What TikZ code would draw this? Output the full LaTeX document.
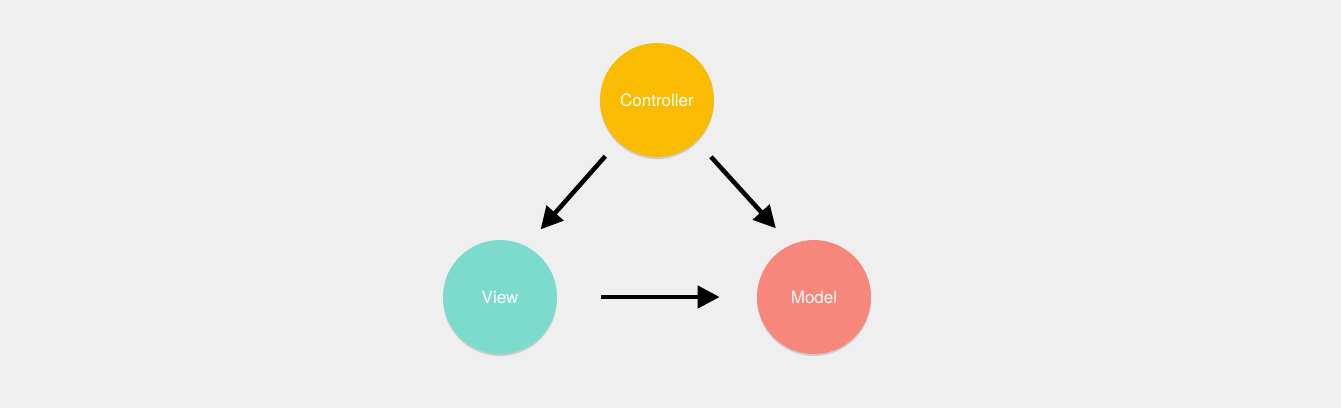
\documentclass[tikz,border=0pt]{standalone}
\usepackage{fontspec}
\setmainfont{TeX Gyre Heros}
\usetikzlibrary{arrows.meta,shadows}

\definecolor{bgGrey}{RGB}{239,239,239}
\definecolor{ctrlYellow}{RGB}{249,188,2}
\definecolor{viewTeal}{RGB}{125,219,206}
\definecolor{modelSalmon}{RGB}{248,135,123}

\tikzset{every picture/.style={line width=0.75pt}}
\tikzset{
  mvcball/.style={circle, minimum size=114pt, inner sep=0pt, draw=none,
    text=white, font=\fontsize{17}{20}\selectfont,
    drop shadow={shadow xshift=0pt, shadow yshift=-2pt, opacity=0.25, fill=black!60}},
  sketcharrow/.style={line width=4.5pt, black,
    -{Triangle[length=22pt,width=22pt]}}
}

\begin{document}
\begin{tikzpicture}[x=1pt,y=1pt,yscale=-1,xscale=1]
        %Background
        \fill [bgGrey] (0,0) rectangle (1341,408);
        \useasboundingbox (0,0) rectangle (1341,408);

        %Circles
        \node [mvcball, fill=ctrlYellow] (ctrl) at (657,100) {Controller};
        \node [mvcball, fill=viewTeal] (view) at (500,297) {View};
        \node [mvcball, fill=modelSalmon] (model) at (814,297) {Model};

        %Arrows
        \draw [sketcharrow, shorten <=19pt, shorten >=22pt] (ctrl.227) -- (view.63);
        \draw [sketcharrow, shorten <=21pt, shorten >=22pt] (ctrl.314) -- (model.114);
        \draw [sketcharrow, shorten <=44pt, shorten >=37pt] (view.0) -- (model.180);
\end{tikzpicture}
\end{document}
